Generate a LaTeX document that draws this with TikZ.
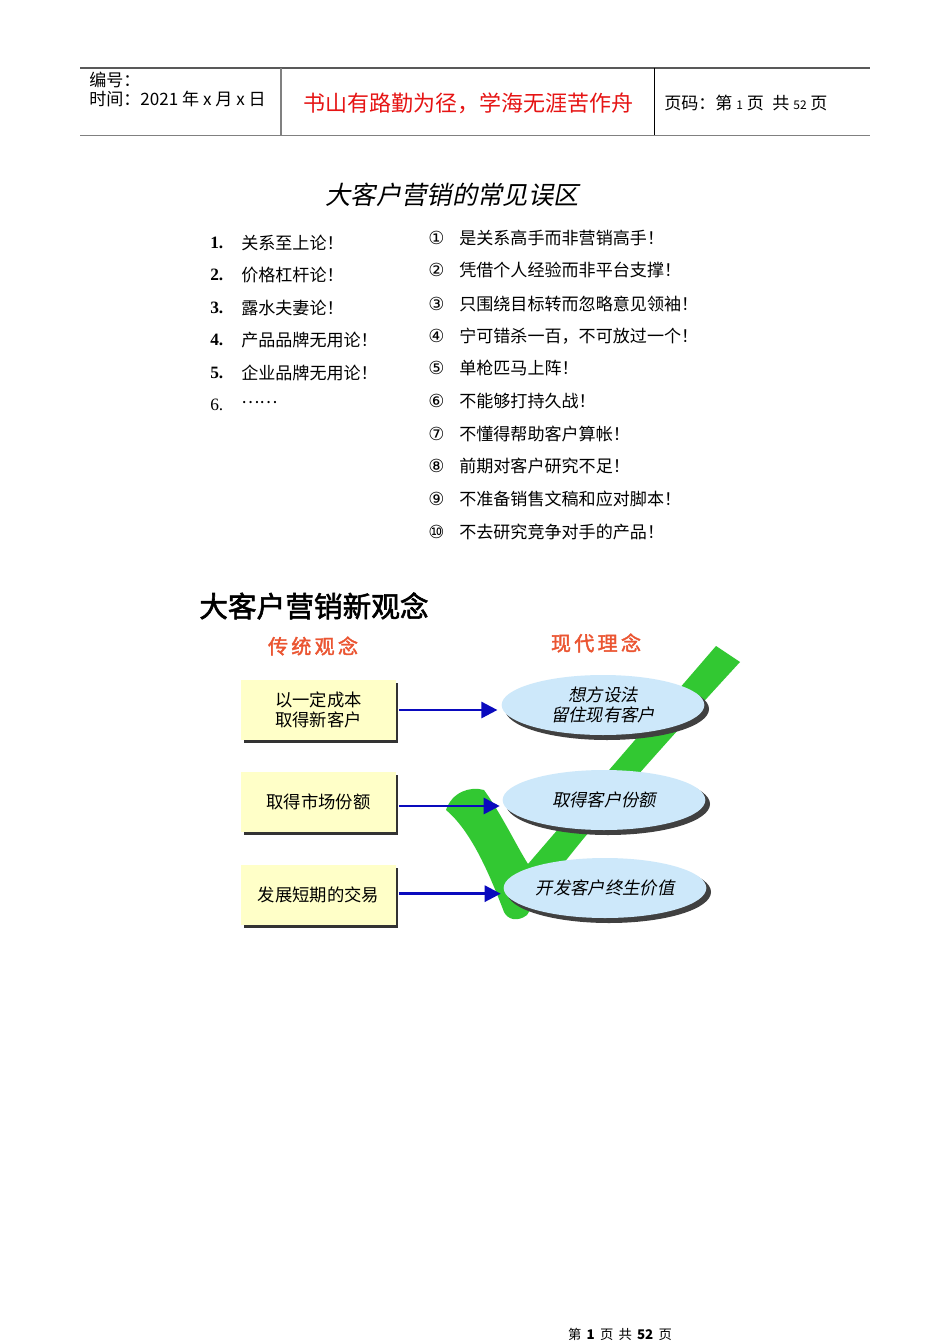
\documentclass[tikz,border=0pt]{standalone}
\usepackage{fontspec}
\setmainfont{Noto Sans CJK SC}
\newfontfamily\cjk{Noto Sans CJK SC}
\newfontfamily\cjkit[FakeSlant=0.2]{Noto Sans CJK SC}
\newfontfamily\cjkb[FakeBold=2]{Noto Sans CJK SC}
\newfontfamily\sern{Liberation Serif}
\newfontfamily\djfont{DejaVu Sans}
\usetikzlibrary{arrows.meta,shapes.geometric}
\definecolor{hred}{RGB}{230,20,20}
\definecolor{sub}{RGB}{235,85,50}
\definecolor{chk}{RGB}{50,200,50}
\definecolor{elb}{RGB}{205,232,250}
\definecolor{bxy}{RGB}{255,255,200}
\definecolor{arb}{RGB}{10,10,190}
\tikzset{
 txt/.style={anchor=west,inner sep=0,font=\fontsize{12.8}{15}\selectfont},
 bx/.style={draw=none,fill=bxy,minimum width=116pt,minimum height=45pt,inner sep=0,align=center,font=\fontsize{13}{15.5}\selectfont},
 el/.style={ellipse,fill=elb,minimum width=152pt,minimum height=45pt,inner sep=0,align=center,font=\cjkit\fontsize{13}{15.5}\selectfont},
 arr/.style={draw=arb,line width=2pt,-{Triangle[length=12pt,width=12pt]}},
}
\begin{document}
\begin{tikzpicture}[x=0.75pt,y=-0.75pt]
\useasboundingbox (0,0) rectangle (950,1344);
\fill[white] (0,0) rectangle (950,1344);
% header
\draw[gray!70!black,line width=0.8pt] (80,68) -- (870,68);
\draw[gray,line width=1pt] (80,135.5) -- (870,135.5);
\draw[gray,line width=0.8pt] (281,68) -- (281,135.5);
\draw[black,line width=0.6pt] (654,68) -- (654,135.5);
\node[txt] (h1) at (89,80) {编号：};
\node[txt] (h2) at (89,99) {时间：2021 年 x 月 x 日};
\node[anchor=center,inner sep=0,text=hred,font=\fontsize{16.5}{18}\selectfont] (h3) at (468,103) {书山有路勤为径，学海无涯苦作舟};
\node[txt] (h4) at (664,103) {页码：第 {\small 1} 页\enspace 共 {\small 52} 页};
% title
\node[inner sep=0,font=\cjkit\fontsize{19}{21}\selectfont] (t1) at (452,195) {大客户营销的常见误区};
% left list
\foreach \n/\t/\y in {1/关系至上论！/243,2/价格杠杆论！/275,3/露水夫妻论！/308,4/产品品牌无用论！/340,5/企业品牌无用论！/373}{
 \node[anchor=west,inner sep=0,font=\sern\bfseries\fontsize{13}{14}\selectfont] (n\n) at (210,\y) {\n.};
 \node[txt] (l\n) at (241,\y) {\t};
}
\node[anchor=west,inner sep=0,font=\sern\fontsize{13}{14}\selectfont] (n6) at (210,405) {6.};
\node[txt] (l6) at (241,403) {……};
% right list
\foreach \c/\t/\y [count=\i] in {①/是关系高手而非营销高手！/238,②/凭借个人经验而非平台支撑！/270,③/只围绕目标转而忽略意见领袖！/304,④/宁可错杀一百，不可放过一个！/336,⑤/单枪匹马上阵！/368,⑥/不能够打持久战！/401,⑦/不懂得帮助客户算帐！/434,⑧/前期对客户研究不足！/466,⑨/不准备销售文稿和应对脚本！/499,⑩/不去研究竞争对手的产品！/532}{
 \node[anchor=west,inner sep=0,font=\djfont\fontsize{13.5}{15}\selectfont] (c\i) at (428,\y) {\c};
 \node[txt] (r\i) at (459,\y) {\t};
}
% section 2
\node[anchor=west,inner sep=0,font=\cjkb\fontsize{21.5}{24}\selectfont] (t2) at (199,606) {大客户营销新观念};
\node[inner sep=0,text=sub,font=\cjkb\fontsize{15}{16}\selectfont] (s1) at (313,646) {传\,统\,观\,念};
\node[inner sep=0,text=sub,font=\cjkb\fontsize{15}{16}\selectfont] (s2) at (596,643) {现\,代\,理\,念};
% check mark
\fill[chk] (446,810) .. controls (452,792) and (470,786) .. (484,790)
 .. controls (502,815) and (516,845) .. (528,864)
 -- (716,646) -- (740,662)
 .. controls (650,760) and (560,860) .. (527,915)
 .. controls (518,922) and (508,920) .. (504,912)
 .. controls (488,870) and (470,830) .. cycle;
% boxes
\foreach \y/\t [count=\i] in {710/{以一定成本\\取得新客户},802/{取得市场份额},895/{发展短期的交易}}{
 \fill[black!80] (244,\y-27) rectangle (398,\y+33);
 \node[bx] (b\i) at (318.5,\y) {\t};
}
% ellipses
\foreach \x/\y/\t [count=\i] in {603/705/{想方设法\\留住现有客户},604/800/{取得客户份额},605/888/{开发客户终生价值}}{
 \fill[black!75] (\x+4,\y+4) ellipse (102 and 31);
 \node[el] (e\i) at (\x,\y) {\t};
}
\coordinate (a1) at ([xshift=2pt]b1.east);
\coordinate (a2) at ([xshift=2pt,yshift=-3pt]b2.east);
\coordinate (a3) at ([xshift=2pt,yshift=1pt]b3.east);
\draw[arr] (a1) -- ([xshift=-3pt]e1.west |- a1);
\draw[arr] (a2) -- ([xshift=-2pt]e2.west |- a2);
\draw[arr] (a3) -- ([xshift=-2pt]e3.west |- a3);
% footer
\node[inner sep=0,font=\fontsize{10}{12}\selectfont] (ft) at (620,1334) {第\, \textbf{1} \,页\, 共\, \textbf{52} \,页};
\end{tikzpicture}
\end{document}
